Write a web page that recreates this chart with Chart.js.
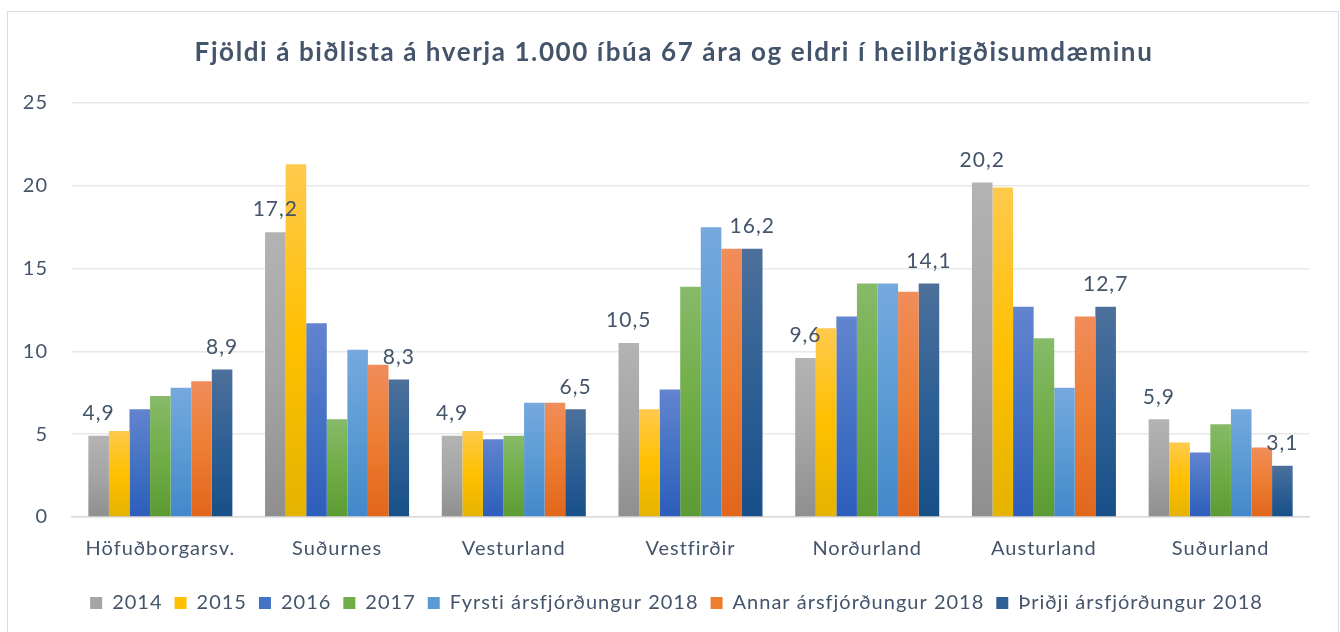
<!DOCTYPE html>
<html>
<head>
<meta charset="utf-8">
<script src="https://cdn.jsdelivr.net/npm/chart.js@4.4.1/dist/chart.umd.min.js"></script>
<style>
  html, body { margin: 0; padding: 0; background: #fff; }
  #wrap { position: relative; width: 1340px; height: 632px; }
  #frame {
    position: absolute; left: 7px; top: 11px; width: 1330px; height: 640px;
    border: 1.5px solid #d9dde3; pointer-events: none;
  }
</style>
</head>
<body>
<div id="wrap">
  <canvas id="waitlist-chart" width="1340" height="632"></canvas>
  <div id="frame"></div>
</div>
<script>
// Heilbrigðisumdæmi (categories)
const regions = ['Höfuðborgarsv.', 'Suðurnes', 'Vesturland', 'Vestfirðir', 'Norðurland', 'Austurland', 'Suðurland'];

// Series values
const y2014 = [4.9, 17.2, 4.9, 10.5, 9.6, 20.2, 5.9];
const y2015 = [5.2, 21.3, 5.2, 6.5, 11.4, 19.9, 4.5];
const y2016 = [6.5, 11.7, 4.7, 7.7, 12.1, 12.7, 3.9];
const y2017 = [7.3, 5.9, 4.9, 13.9, 14.1, 10.8, 5.6];
const q1_2018 = [7.8, 10.1, 6.9, 17.5, 14.1, 7.8, 6.5];
const q2_2018 = [8.2, 9.2, 6.9, 16.2, 13.6, 12.1, 4.2];
const q3_2018 = [8.9, 8.3, 6.5, 16.2, 14.1, 12.7, 3.1];

const seriesNames = ['2014', '2015', '2016', '2017', 'Fyrsti ársfjórðungur 2018', 'Annar ársfjórðungur 2018', 'Þriðji ársfjórðungur 2018'];
const yTicks = [0, 5, 10, 15, 20, 25];
const chartTitle = 'Fjöldi á biðlista á hverja 1.000 íbúa 67 ára og eldri í heilbrigðisumdæminu';

// gradient stops per series: top, middle, bottom
const palette = [
    ['#b3b3b3', '#a5a5a5', '#8f8f8f'],
    ['#ffc94d', '#ffc000', '#e5b300'],
    ['#6384cf', '#4472c4', '#2d5dbb'],
    ['#86ba69', '#70ad47', '#5c9b33'],
    ['#76a9dd', '#5b9bd5', '#4288ca'],
    ['#f18d5a', '#ed7d31', '#e1661c'],
    ['#4d709b', '#2e6095', '#184f88']
];

const textColor = '#44546a';
const fontFamily = 'Lato, "Open Sans", sans-serif';

function barGradient(ctx, stops) {
    const chart = ctx.chart;
    if (ctx.type !== 'data' || !chart.chartArea || !chart.scales.y) return stops[1];
    const y = chart.scales.y;
    const top = y.getPixelForValue(ctx.raw);
    const base = y.getPixelForValue(0);
    if (!isFinite(top) || top === base) return stops[1];
    const g = chart.ctx.createLinearGradient(0, top, 0, base);
    g.addColorStop(0, stops[0]);
    g.addColorStop(0.5, stops[1]);
    g.addColorStop(1, stops[2]);
    return g;
}

// Lato runs narrower than the original font, so space the letters a bit
const textSpacing = {
    id: 'textSpacing',
    afterInit(chart) { chart.ctx.letterSpacing = '1px'; },
    beforeLayout(chart) { chart.ctx.letterSpacing = '1px'; },
    afterLayout(chart) {
        // legend sits a little right of the canvas centre in the original
        chart.legend.left += 22;
        chart.legend.right += 22;
    },
    beforeDraw(chart) { chart.ctx.letterSpacing = '1px'; },
    afterDraw(chart) {
        // title drawn here; the built-in one is transparent and only reserves room
        const c = chart.ctx;
        c.save();
        c.letterSpacing = '1.6px';
        c.font = 'bold 26px ' + fontFamily;
        c.fillStyle = textColor;
        c.textAlign = 'center';
        c.textBaseline = 'middle';
        c.fillText(chartTitle, 674, 53);
        c.restore();
    }
};

// value labels only on first and last series
const labelledSeries = [0, 6];
const valueLabels = {
    id: 'valueLabels',
    afterDatasetsDraw(chart) {
        const c = chart.ctx;
        c.save();
        c.letterSpacing = '1px';
        c.font = '21px ' + fontFamily;
        c.fillStyle = textColor;
        c.textAlign = 'center';
        c.textBaseline = 'bottom';
        labelledSeries.forEach(di => {
            const meta = chart.getDatasetMeta(di);
            meta.data.forEach((bar, i) => {
                const v = chart.data.datasets[di].data[i];
                c.fillText(v.toFixed(1).replace('.', ','), bar.x, bar.y - 12);
            });
        });
        c.restore();
    }
};

const allSeries = [y2014, y2015, y2016, y2017, q1_2018, q2_2018, q3_2018];

new Chart(document.getElementById('waitlist-chart'), {
    type: 'bar',
    data: {
        labels: regions,
        datasets: allSeries.map((values, i) => ({
            label: seriesNames[i],
            data: values,
            backgroundColor: (ctx) => barGradient(ctx, palette[i]),
            borderWidth: 0,
            categoryPercentage: 0.815,
            barPercentage: 1
        }))
    },
    options: {
        responsive: false,
        animation: false,
        layout: {
            padding: { left: 0, right: 31, top: 0, bottom: 9 }
        },
        plugins: {
            title: {
                display: true,
                text: chartTitle,
                color: 'rgba(0,0,0,0)',
                font: { family: fontFamily, size: 25, weight: 'bold' },
                padding: { top: 35, bottom: 38 }
            },
            legend: {
                position: 'bottom',
                labels: {
                    color: textColor,
                    font: { family: fontFamily, size: 20 },
                    boxWidth: 12,
                    boxHeight: 12,
                    padding: 12,
                    generateLabels: (chart) => seriesNames.map((name, i) => ({
                        text: name,
                        fillStyle: palette[i][1],
                        strokeStyle: palette[i][1],
                        lineWidth: 0,
                        fontColor: textColor,
                        datasetIndex: i
                    }))
                }
            },
            tooltip: { enabled: false }
        },
        scales: {
            x: {
                grid: { display: false, drawTicks: false },
                border: { display: true, color: '#d9d9d9', width: 1.5 },
                ticks: {
                    color: textColor,
                    font: { family: fontFamily, size: 20 },
                    padding: 20
                }
            },
            y: {
                min: 0,
                max: 25,
                afterBuildTicks: (scale) => { scale.ticks = yTicks.map(v => ({ value: v })); },
                afterFit: (scale) => { scale.width = 72; },
                grid: { color: '#e8e8e8', lineWidth: 1.5, drawTicks: false },
                border: { display: false },
                ticks: {
                    color: textColor,
                    font: { family: fontFamily, size: 20 },
                    padding: 24
                }
            }
        }
    },
    plugins: [textSpacing, valueLabels]
});
</script>
</body>
</html>
